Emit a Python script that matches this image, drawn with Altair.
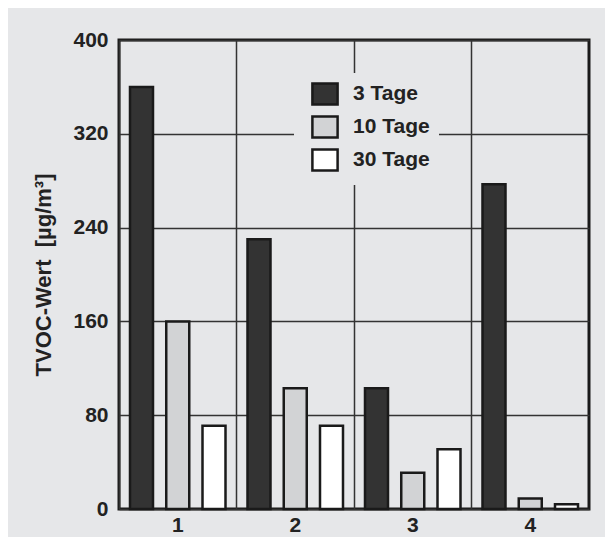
import altair as alt
import pandas as pd

groups = ["1", "2", "3", "4"]
series = ["3 Tage", "10 Tage", "30 Tage"]
values_3 = [360, 230, 103, 277]
values_10 = [160, 103, 31, 9]
values_30 = [71, 71, 51, 4]
y_ticks = [0, 80, 160, 240, 320, 400]
colors = ["#333333", "#d2d3d5", "#ffffff"]

rows = []
for vals, s in zip([values_3, values_10, values_30], series):
    for g, v in zip(groups, vals):
        rows.append({"Gruppe": g, "Serie": s, "Wert": v})
df = pd.DataFrame(rows)

FONT = "Liberation Sans"
TXT = "#222222"
NB = "\u00a0"

x_scale = alt.Scale(paddingInner=0, paddingOuter=0)
y_scale = alt.Scale(domain=[0, 400], nice=False)
y_axis = alt.Axis(values=y_ticks, title="TVOC-Wert" + NB + NB + "[µg/m³]",
                  grid=True, gridColor="#333333", gridWidth=1.5,
                  ticks=False, domain=False,
                  labelFont=FONT, labelFontSize=21, labelFontWeight="bold",
                  labelColor=TXT, labelPadding=11,
                  titleFont=FONT, titleFontSize=22, titleFontWeight="bold",
                  titleColor=TXT, titlePadding=17)

grid_layer = alt.Chart(df).mark_bar(opacity=0).encode(
    x=alt.X("Gruppe:N", sort=groups, scale=x_scale,
            axis=alt.Axis(orient="top", bandPosition=0, grid=True, labels=False,
                          ticks=False, domain=False, title=None,
                          gridColor="#333333", gridWidth=1.5)),
    y=alt.Y("Wert:Q", scale=y_scale, axis=y_axis),
)

bars = alt.Chart(df).mark_bar(stroke="#1a1a1a", strokeWidth=2.5).encode(
    x=alt.X("Gruppe:N", sort=groups, scale=x_scale,
            axis=alt.Axis(title=None, labelAngle=0, grid=False, ticks=False, domain=False,
                          labelFont=FONT, labelFontSize=21, labelFontWeight="bold",
                          labelColor=TXT, labelPadding=5)),
    xOffset=alt.XOffset("Serie:N", sort=series,
                        scale=alt.Scale(domain=series, paddingInner=0.3655, paddingOuter=0.3034)),
    y=alt.Y("Wert:Q", scale=y_scale, axis=y_axis),
    fill=alt.Fill("Serie:N", sort=series,
                  scale=alt.Scale(domain=series, range=colors),
                  legend=alt.Legend(title=None, orient="none", legendX=175, legendY=33,
                                    fillColor="#e6e7e9", padding=9,
                                    symbolType="M-1.2,-1L1.2,-1L1.2,1L-1.2,1Z",
                                    symbolSize=441, symbolStrokeColor="#1a1a1a",
                                    symbolStrokeWidth=2.5, symbolOffset=10,
                                    labelFont=FONT, labelFontSize=21, labelFontWeight="bold",
                                    labelColor=TXT, labelOffset=16, rowPadding=1,
                                    labelExpr="datum.label == '3 Tage' ? '" + NB + NB + "3 Tage' : datum.label")),
)

chart = alt.layer(grid_layer, bars).resolve_axis(x="independent").properties(
    width=470,
    height=469,
    background="#e6e7e9",
    padding={"left": 111, "top": 32, "right": 16, "bottom": 28},
    autosize=alt.AutoSizeParams(type="none"),
).configure_view(stroke="#1a1a1a", strokeWidth=3, fill="#e6e7e9")

chart.save("out.html", embed_options={"renderer": "svg", "actions": False})
